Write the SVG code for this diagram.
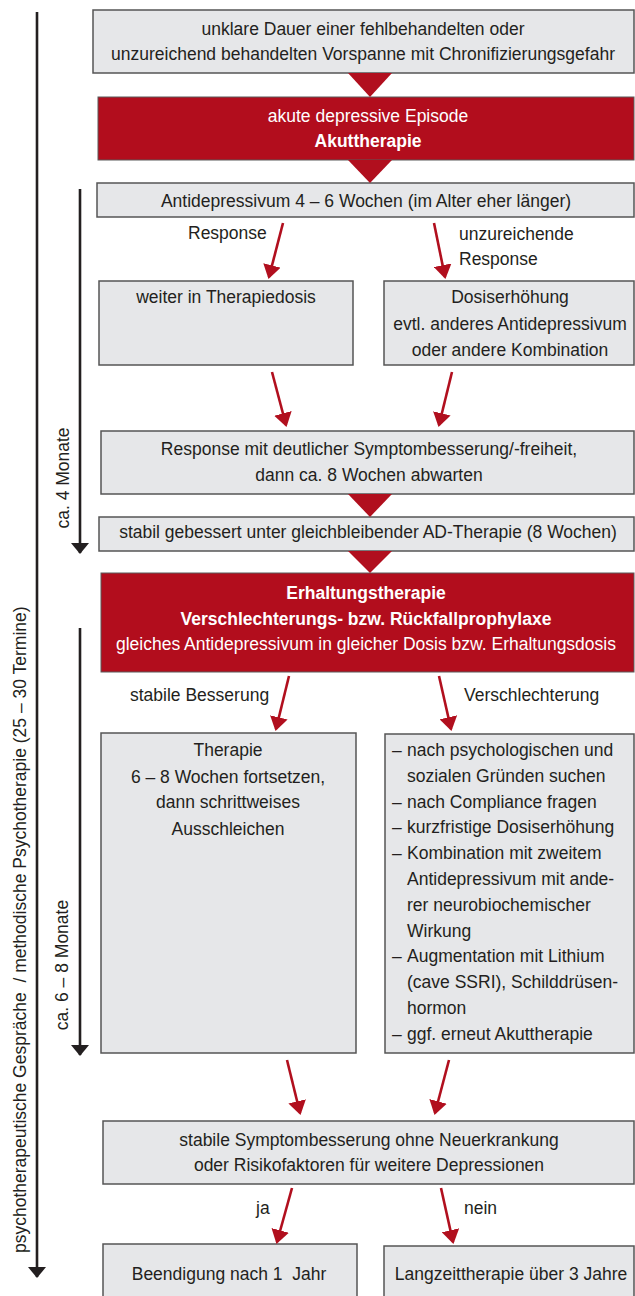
<svg xmlns="http://www.w3.org/2000/svg" width="635" height="1296" viewBox="0 0 635 1296">
<style>
.box{fill:#e6e7e9;stroke:#555;stroke-width:1.5}
.rbox{fill:#b20d1d;stroke:#5a5a5a;stroke-width:1}
text{font-family:"Liberation Sans",Arial,sans-serif;font-size:17.5px;fill:#231f20}
.c{text-anchor:middle}
.w{fill:#fff}
.b{font-weight:bold}
.pre{white-space:pre}
.ra{stroke:#b10f1e;stroke-width:2.6;fill:none;marker-end:url(#rh)}
.ba{stroke:#231f20;stroke-width:2.6;fill:none;marker-end:url(#bh)}
.tri{fill:#b10f1e}
</style>
<defs>
<marker id="rh" viewBox="0 0 14 18" refX="12" refY="9" markerWidth="14" markerHeight="18" orient="auto" markerUnits="userSpaceOnUse"><path d="M0,0 L14,9 L0,18 z" fill="#b10f1e"/></marker>
<marker id="bh" viewBox="0 0 11 18" refX="10" refY="9" markerWidth="11" markerHeight="18" orient="auto" markerUnits="userSpaceOnUse"><path d="M0,0 L11,9 L0,18 z" fill="#231f20"/></marker>
</defs>

<g id="timeline">
<line class="ba" x1="37" y1="12" x2="37" y2="1277"/>
<text class="pre" xml:space="preserve" transform="translate(26,1253) rotate(-90)">psychotherapeutische Gespräche  / methodische Psychotherapie (25 – 30 Termine)</text>
<line class="ba" x1="80" y1="189" x2="80" y2="553"/>
<text class="c" transform="translate(69,478) rotate(-90)">ca. 4 Monate</text>
<line class="ba" x1="80" y1="628" x2="80" y2="1055"/>
<text class="c" transform="translate(68,965) rotate(-90)">ca. 6 – 8 Monate</text>
</g>

<g id="n1"><rect class="box" x="93" y="10" width="541" height="63"/>
<text class="c" x="363" y="35">unklare Dauer einer fehlbehandelten oder</text>
<text class="c" x="363" y="60">unzureichend behandelten Vorspanne mit Chronifizierungsgefahr</text></g>

<g id="n2"><rect class="rbox" x="98" y="97" width="536" height="63"/>
<text class="c w" x="368" y="122">akute depressive Episode</text>
<text class="c w b" x="368" y="147">Akuttherapie</text></g>

<g id="n3"><rect class="box" x="97" y="183" width="537" height="34"/>
<text class="c" x="366" y="207">Antidepressivum 4 – 6 Wochen (im Alter eher länger)</text></g>

<g id="n4"><rect class="box" x="99" y="281" width="254" height="84"/>
<text class="c" x="226" y="303">weiter in Therapiedosis</text></g>

<g id="n5"><rect class="box" x="384" y="281" width="250" height="84"/>
<text class="c" x="510" y="303">Dosiserhöhung</text>
<text class="c" x="510" y="330">evtl. anderes Antidepressivum</text>
<text class="c" x="510" y="356">oder andere Kombination</text></g>

<g id="n6"><rect class="box" x="101" y="431" width="533" height="63"/>
<text class="c" x="369" y="455">Response mit deutlicher Symptombesserung/-freiheit,</text>
<text class="c" x="369" y="481">dann ca. 8 Wochen abwarten</text></g>

<g id="n7"><rect class="box" x="99" y="517" width="535" height="34"/>
<text class="c" x="368" y="538">stabil gebessert unter gleichbleibender AD-Therapie (8 Wochen)</text></g>

<g id="n8"><rect class="rbox" x="101" y="573" width="533" height="99"/>
<text class="c w b" x="366" y="599">Erhaltungstherapie</text>
<text class="c w b" x="366" y="625">Verschlechterungs- bzw. Rückfallprophylaxe</text>
<text class="c w" x="366" y="650">gleiches Antidepressivum in gleicher Dosis bzw. Erhaltungsdosis</text></g>

<g id="n9"><rect class="box" x="101" y="733" width="255" height="320"/>
<text class="c" x="228" y="756">Therapie</text>
<text class="c" x="228" y="783">6 – 8 Wochen fortsetzen,</text>
<text class="c" x="228" y="808">dann schrittweises</text>
<text class="c" x="228" y="835">Ausschleichen</text></g>

<g id="n10"><rect class="box" x="385" y="734" width="249" height="319"/>
<text x="392" y="756">–<tspan x="407">nach psychologischen und</tspan></text>
<text x="407" y="782">sozialen Gründen suchen</text>
<text x="392" y="808">–<tspan x="407">nach Compliance fragen</tspan></text>
<text x="392" y="833">–<tspan x="407">kurzfristige Dosiserhöhung</tspan></text>
<text x="392" y="859">–<tspan x="407">Kombination mit zweitem</tspan></text>
<text x="407" y="885">Antidepressivum mit ande-</text>
<text x="407" y="911">rer neurobiochemischer</text>
<text x="407" y="937">Wirkung</text>
<text x="392" y="962">–<tspan x="407">Augmentation mit Lithium</tspan></text>
<text x="407" y="988">(cave SSRI), Schilddrüsen-</text>
<text x="407" y="1014">hormon</text>
<text x="392" y="1040">–<tspan x="407">ggf. erneut Akuttherapie</tspan></text></g>

<g id="n11"><rect class="box" x="103" y="1121" width="531" height="63"/>
<text class="c" x="369" y="1146">stabile Symptombesserung ohne Neuerkrankung</text>
<text class="c" x="369" y="1171">oder Risikofaktoren für weitere Depressionen</text></g>

<g id="n12"><rect class="box" x="103" y="1244" width="254" height="60"/>
<text class="c pre" xml:space="preserve" x="229" y="1280">Beendigung nach 1  Jahr</text></g>

<g id="n13"><rect class="box" x="384" y="1246" width="250" height="60"/>
<text class="c" x="511" y="1280">Langzeittherapie über 3 Jahre</text></g>

<g id="connectors">
<path class="tri" d="M348,73 L392,73 L370,97 z"/>
<path class="tri" d="M348,160 L392,160 L370,183 z"/>
<path class="tri" d="M348,494 L392,494 L370,517 z"/>
<path class="tri" d="M348,551 L392,551 L370,573 z"/>
<line class="ra" x1="283" y1="223" x2="269" y2="277"/>
<line class="ra" x1="434" y1="223" x2="445" y2="277"/>
<line class="ra" x1="272" y1="372" x2="286" y2="425"/>
<line class="ra" x1="452" y1="372" x2="439" y2="425"/>
<line class="ra" x1="289" y1="676" x2="276" y2="729"/>
<line class="ra" x1="439" y1="676" x2="451" y2="729"/>
<line class="ra" x1="287" y1="1060" x2="300" y2="1113"/>
<line class="ra" x1="449" y1="1060" x2="435" y2="1113"/>
<line class="ra" x1="292" y1="1188" x2="277" y2="1242"/>
<line class="ra" x1="441" y1="1188" x2="453" y2="1242"/>
<text x="188" y="239">Response</text>
<text x="459" y="240">unzureichende</text>
<text x="459" y="265">Response</text>
<text x="130" y="701">stabile Besserung</text>
<text x="464" y="701">Verschlechterung</text>
<text x="256" y="1214">ja</text>
<text x="464" y="1214">nein</text>
</g>
</svg>
